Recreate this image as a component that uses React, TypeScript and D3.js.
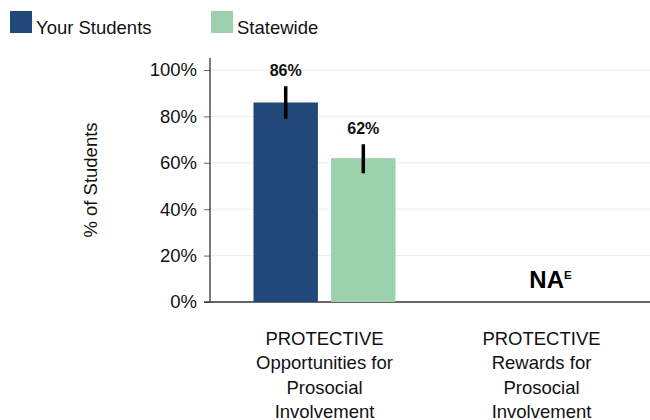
import React, { useEffect, useRef } from 'react';
import * as d3 from 'd3';

const categories = ['opportunities', 'rewards'];
const categoryLines = [
  ['PROTECTIVE', 'Opportunities for', 'Prosocial', 'Involvement'],
  ['PROTECTIVE', 'Rewards for', 'Prosocial', 'Involvement'],
];
const seriesNames = ['Your Students', 'Statewide'];
const seriesColors = ['#20497a', '#9bd1ac'];
// null = not available
const yourStudents: (number | null)[] = [86, null];
const statewide: (number | null)[] = [62, null];
const yourLow: (number | null)[] = [79, null];
const yourHigh: (number | null)[] = [93, null];
const stateLow: (number | null)[] = [55.5, null];
const stateHigh: (number | null)[] = [68, null];
const yTicks = [0, 20, 40, 60, 80, 100];

const W = 650;
const H = 420;
const FONT = '"Liberation Sans", Arial, Helvetica, sans-serif';

export default function App() {
  const svgRef = useRef<SVGSVGElement>(null);

  useEffect(() => {
    if (!svgRef.current) return;
    const svg = d3.select(svgRef.current);
    svg.selectAll('*').remove();

    const margin = { top: 70, right: 0, bottom: 118, left: 210 };

    const y = d3.scaleLinear().domain([0, 100]).range([H - margin.bottom, margin.top]);
    const x = d3.scaleBand().domain(categories).range([216, 650]).padding(0);
    const inner = d3.scaleBand().domain(['0', '1']).range([-71, 71]).paddingInner(0.17);

    // grid
    svg.append('g')
      .selectAll('line')
      .data(yTicks.filter(t => t > 0))
      .enter().append('line')
      .attr('x1', margin.left)
      .attr('x2', W)
      .attr('y1', d => y(d))
      .attr('y2', d => y(d))
      .attr('stroke', '#ececec')
      .attr('stroke-width', 1);

    // y axis
    const yAxis = svg.append('g')
      .attr('transform', `translate(${margin.left},0)`)
      .call(d3.axisLeft(y).tickValues(yTicks).tickSize(6).tickPadding(7).tickFormat(d => `${d}%`));
    yAxis.select('.domain').remove();
    yAxis.selectAll('.tick line').attr('stroke', '#666');
    yAxis.selectAll('.tick text')
      .attr('font-family', FONT)
      .attr('font-size', 18.5)
      .attr('fill', '#111');
    svg.append('line')
      .attr('x1', margin.left).attr('x2', margin.left)
      .attr('y1', margin.top - 12).attr('y2', y(0))
      .attr('stroke', '#222').attr('stroke-width', 1.2);

    // x axis line
    svg.append('line')
      .attr('x1', margin.left - 6).attr('x2', W)
      .attr('y1', y(0)).attr('y2', y(0))
      .attr('stroke', '#333').attr('stroke-width', 1.4);

    // y title
    svg.append('text')
      .attr('transform', `translate(97,180) rotate(-90)`)
      .attr('text-anchor', 'middle')
      .attr('font-family', FONT)
      .attr('font-size', 18.5)
      .attr('fill', '#111')
      .text('% of Students');

    const series = [
      { vals: yourStudents, lo: yourLow, hi: yourHigh },
      { vals: statewide, lo: stateLow, hi: stateHigh },
    ];

    categories.forEach((c, ci) => {
      const cx = x(c)! + x.bandwidth() / 2;
      const available = series.some(s => s.vals[ci] !== null);
      if (!available) {
        const t = svg.append('text')
          .attr('x', cx + 9)
          .attr('y', y(0) - 14)
          .attr('text-anchor', 'middle')
          .attr('font-family', FONT)
          .attr('font-weight', 'bold')
          .attr('font-size', 24)
          .attr('fill', '#000');
        t.append('tspan').text('NA');
        t.append('tspan').attr('font-size', 11.5).attr('dy', -9).text('E');
      }
      series.forEach((s, si) => {
        const v = s.vals[ci];
        if (v === null) return;
        const bx = cx + inner(String(si))!;
        const bw = inner.bandwidth();
        svg.append('rect')
          .attr('x', bx)
          .attr('y', y(v))
          .attr('width', bw)
          .attr('height', y(0) - y(v))
          .attr('fill', seriesColors[si]);
        const lo = s.lo[ci]!;
        const hi = s.hi[ci]!;
        svg.append('line')
          .attr('x1', bx + bw / 2).attr('x2', bx + bw / 2)
          .attr('y1', y(hi)).attr('y2', y(lo))
          .attr('stroke', '#000').attr('stroke-width', 3.5);
        svg.append('text')
          .attr('x', bx + bw / 2)
          .attr('y', y(hi) - 10)
          .attr('text-anchor', 'middle')
          .attr('font-family', FONT)
          .attr('font-weight', 'bold')
          .attr('font-size', 16)
          .attr('fill', '#111')
          .text(`${v}%`);
      });

      // category label
      const lab = svg.append('text')
        .attr('text-anchor', 'middle')
        .attr('font-family', FONT)
        .attr('font-size', 18.5)
        .attr('fill', '#111');
      categoryLines[ci].forEach((line, li) => {
        lab.append('tspan')
          .attr('x', cx)
          .attr('y', 345 + li * 24.4)
          .text(line);
      });
    });

    // legend
    seriesNames.forEach((name, i) => {
      const lx = 10 + i * 201;
      svg.append('rect')
        .attr('x', lx).attr('y', 11)
        .attr('width', 22).attr('height', 22)
        .attr('fill', seriesColors[i]);
      svg.append('text')
        .attr('x', lx + 26).attr('y', 34)
        .attr('font-family', FONT)
        .attr('font-size', 18.5)
        .attr('fill', '#111')
        .text(name);
    });
  }, []);

  return (
    <svg
      ref={svgRef}
      width={W}
      height={H}
      style={{ position: 'fixed', left: 0, top: 0, background: '#fff' }}
    />
  );
}
